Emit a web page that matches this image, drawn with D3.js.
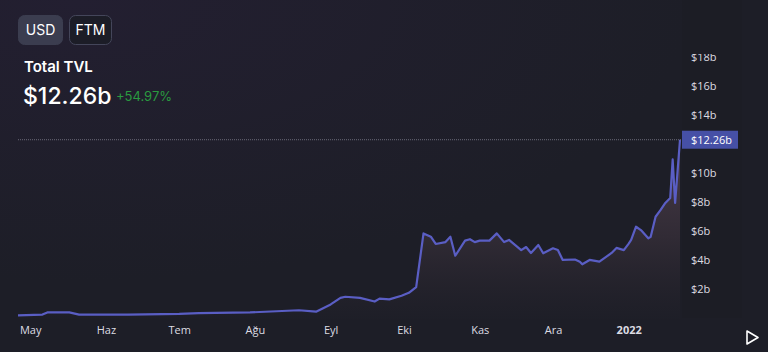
<!DOCTYPE html>
<html>
<head>
<meta charset="utf-8">
<script src="https://cdn.jsdelivr.net/npm/d3@7"></script>
<style>
  html, body { margin: 0; padding: 0; background: #1d1e27; }
  #chart { width: 768px; height: 352px; }
  text { font-family: "Open Sans", "Noto Sans", sans-serif; }
</style>
</head>
<body>
<div id="chart"></div>
<script>
// 数据
var dates = ["2021-04-26", "2021-05-06", "2021-05-08", "2021-05-17", "2021-05-21", "2021-06-10",
  "2021-07-01", "2021-07-09", "2021-07-30", "2021-08-19", "2021-08-26", "2021-09-01",
  "2021-09-05", "2021-09-07", "2021-09-13", "2021-09-19", "2021-09-21", "2021-09-25",
  "2021-09-30", "2021-10-03", "2021-10-06", "2021-10-09", "2021-10-12", "2021-10-14",
  "2021-10-18", "2021-10-20", "2021-10-22", "2021-10-26", "2021-10-28", "2021-10-30",
  "2021-11-01", "2021-11-05", "2021-11-08", "2021-11-11", "2021-11-13", "2021-11-18",
  "2021-11-20", "2021-11-22", "2021-11-25", "2021-11-27", "2021-12-01", "2021-12-03",
  "2021-12-05", "2021-12-10", "2021-12-12", "2021-12-13", "2021-12-16", "2021-12-20",
  "2021-12-25", "2021-12-27", "2021-12-30", "2022-01-01", "2022-01-02", "2022-01-04",
  "2022-01-06", "2022-01-09", "2022-01-10", "2022-01-12", "2022-01-14", "2022-01-16",
  "2022-01-18", "2022-01-19", "2022-01-20", "2022-01-22"];
var tvl = [0.15, 0.2, 0.35, 0.35, 0.2, 0.2,
  0.25, 0.3, 0.35, 0.5, 0.4, 0.9,
  1.35, 1.43, 1.35, 1.1, 1.3, 1.25,
  1.5, 1.7, 2.1, 5.8, 5.57, 5.07,
  5.2, 5.57, 4.26, 5.3, 5.4, 5.2,
  5.3, 5.3, 5.8, 5.2, 5.35, 4.65,
  4.86, 4.45, 5.0, 4.43, 4.77, 4.65,
  3.97, 4.0, 3.85, 3.67, 3.97, 3.85,
  4.45, 4.8, 4.65, 5.1, 5.35, 6.26,
  6.03, 5.46, 5.57, 6.95, 7.4, 7.9,
  8.24, 10.9, 7.9, 12.26];
var monthTicks = ["2021-05-01", "2021-06-01", "2021-07-01", "2021-08-01", "2021-09-01",
  "2021-10-01", "2021-11-01", "2021-12-01", "2022-01-01"];
var monthLabels = ["May", "Haz", "Tem", "Ağu", "Eyl", "Eki", "Kas", "Ara", "2022"];
var yTicks = [2, 4, 6, 8, 10, 12, 14, 16, 18];
var buttons = ["USD", "FTM"];
var title = "Total TVL";
var totalText = "$12.26b";
var changeText = "+54.97%";

var parse = d3.timeParse("%Y-%m-%d");
var data = dates.map(function(d, i) { return { date: parse(d), value: tvl[i] }; });
var last = data[data.length - 1];

var width = 768, height = 352;
var svg = d3.select("#chart").append("svg")
  .attr("width", width).attr("height", height);

var defs = svg.append("defs");
// 背景渐变
var bg = defs.append("radialGradient").attr("id", "bg")
  .attr("cx", "10%").attr("cy", "0%").attr("r", "80%");
bg.append("stop").attr("offset", "0%").attr("stop-color", "#231f31");
bg.append("stop").attr("offset", "100%").attr("stop-color", "#1d1e27");
var area = defs.append("linearGradient").attr("id", "areaFill")
  .attr("gradientUnits", "userSpaceOnUse")
  .attr("x1", 0).attr("y1", 135).attr("x2", 0).attr("y2", 320);
area.append("stop").attr("offset", "0%").attr("stop-color", "#4a3c48").attr("stop-opacity", 1);
area.append("stop").attr("offset", "55%").attr("stop-color", "#312b35").attr("stop-opacity", 1);
area.append("stop").attr("offset", "100%").attr("stop-color", "#1f1f28").attr("stop-opacity", 0.5);
defs.append("clipPath").attr("id", "plotClip")
  .append("rect").attr("x", 0).attr("y", 54).attr("width", width).attr("height", 300);

svg.append("rect").attr("width", width).attr("height", height).attr("fill", "url(#bg)");
// 右侧轴区
svg.append("rect").attr("x", 682).attr("y", 0).attr("width", 60).attr("height", 318)
  .attr("fill", "#181920").attr("opacity", 0.2);

var x = d3.scaleTime()
  .domain(d3.extent(data, function(d) { return d.date; }))
  .range([18, 680]);
var y = d3.scaleLinear().domain([0, 18]).range([317.5, 56.5]);

// 面积与折线
svg.append("path").datum(data)
  .attr("fill", "url(#areaFill)")
  .attr("d", d3.area()
    .x(function(d) { return x(d.date); })
    .y0(y(0) + 2)
    .y1(function(d) { return y(d.value); }));
svg.append("path").datum(data)
  .attr("fill", "none")
  .attr("stroke", "#5a5ec4")
  .attr("stroke-width", 2.2)
  .attr("stroke-linejoin", "round")
  .attr("d", d3.line()
    .x(function(d) { return x(d.date); })
    .y(function(d) { return y(d.value); }));

// 当前值虚线
svg.append("line")
  .attr("x1", 18).attr("x2", 682)
  .attr("y1", y(last.value)).attr("y2", y(last.value))
  .attr("stroke", "#6a6a78").attr("stroke-width", 1)
  .attr("stroke-dasharray", "1,1");

// y 轴
var yAxis = d3.axisRight(y)
  .tickValues(yTicks.filter(function(v) { return Math.abs(y(v) - y(last.value)) > 12; }))
  .tickSize(0).tickPadding(0)
  .tickFormat(function(v) { return "$" + v + "b"; });
var yg = svg.append("g").attr("transform", "translate(691,0)")
  .attr("clip-path", "url(#plotClip)")
  .call(yAxis);
yg.select(".domain").remove();
yg.selectAll("text").attr("fill", "#dcdce2").attr("font-size", 11);

// 当前值标签
svg.append("rect")
  .attr("x", 682).attr("y", y(last.value) - 9)
  .attr("width", 56).attr("height", 18)
  .attr("fill", "#4650a6");
svg.append("text")
  .attr("x", 691).attr("y", y(last.value))
  .attr("dy", "0.35em")
  .attr("fill", "#ffffff").attr("font-size", 11)
  .text(totalText);

// x 轴
var xAxis = d3.axisBottom(x)
  .tickValues(monthTicks.map(parse))
  .tickSize(0).tickPadding(0)
  .tickFormat(function(d, i) { return monthLabels[i]; });
var xg = svg.append("g").attr("transform", "translate(0,326)").call(xAxis);
xg.select(".domain").remove();
xg.selectAll("text")
  .attr("fill", "#dcdce2").attr("font-size", 11)
  .attr("font-weight", function(d, i) { return monthLabels[i] === "2022" ? 700 : 400; });

// 播放按钮
svg.append("path")
  .attr("d", "M747,331 L758,337.5 L747,344 Z")
  .attr("fill", "none").attr("stroke", "#ffffff").attr("stroke-width", 1.6)
  .attr("stroke-linejoin", "round");

// 按钮
var btnX = [18, 69], btnW = [44, 42];
buttons.forEach(function(b, i) {
  svg.append("rect")
    .attr("x", btnX[i] + 0.5).attr("y", 15.5)
    .attr("width", btnW[i]).attr("height", 29).attr("rx", 6)
    .attr("fill", i === 0 ? "#3b3d4f" : "#1c1d27")
    .attr("stroke", i === 0 ? "#3b3d4f" : "#44465a");
  svg.append("text")
    .attr("x", btnX[i] + btnW[i] / 2 + 0.5).attr("y", 30.5)
    .attr("dy", "0.35em").attr("text-anchor", "middle")
    .attr("fill", "#ffffff").attr("font-size", 14)
    .style("font-family", "Inter, sans-serif")
    .text(b);
});

svg.append("text")
  .attr("x", 24).attr("y", 72)
  .attr("fill", "#ffffff").attr("font-size", 15).attr("font-weight", 600)
  .style("font-family", "Inter, sans-serif")
  .text(title);
svg.append("text")
  .attr("x", 23).attr("y", 104)
  .attr("fill", "#ffffff").attr("font-size", 23).attr("font-weight", 500)
  .style("font-family", "Inter, sans-serif")
  .text(totalText);
svg.append("text")
  .attr("x", 116).attr("y", 101)
  .attr("fill", "#2a9a40").attr("font-size", 13)
  .style("font-family", "Inter, sans-serif")
  .text(changeText);
</script>
</body>
</html>
